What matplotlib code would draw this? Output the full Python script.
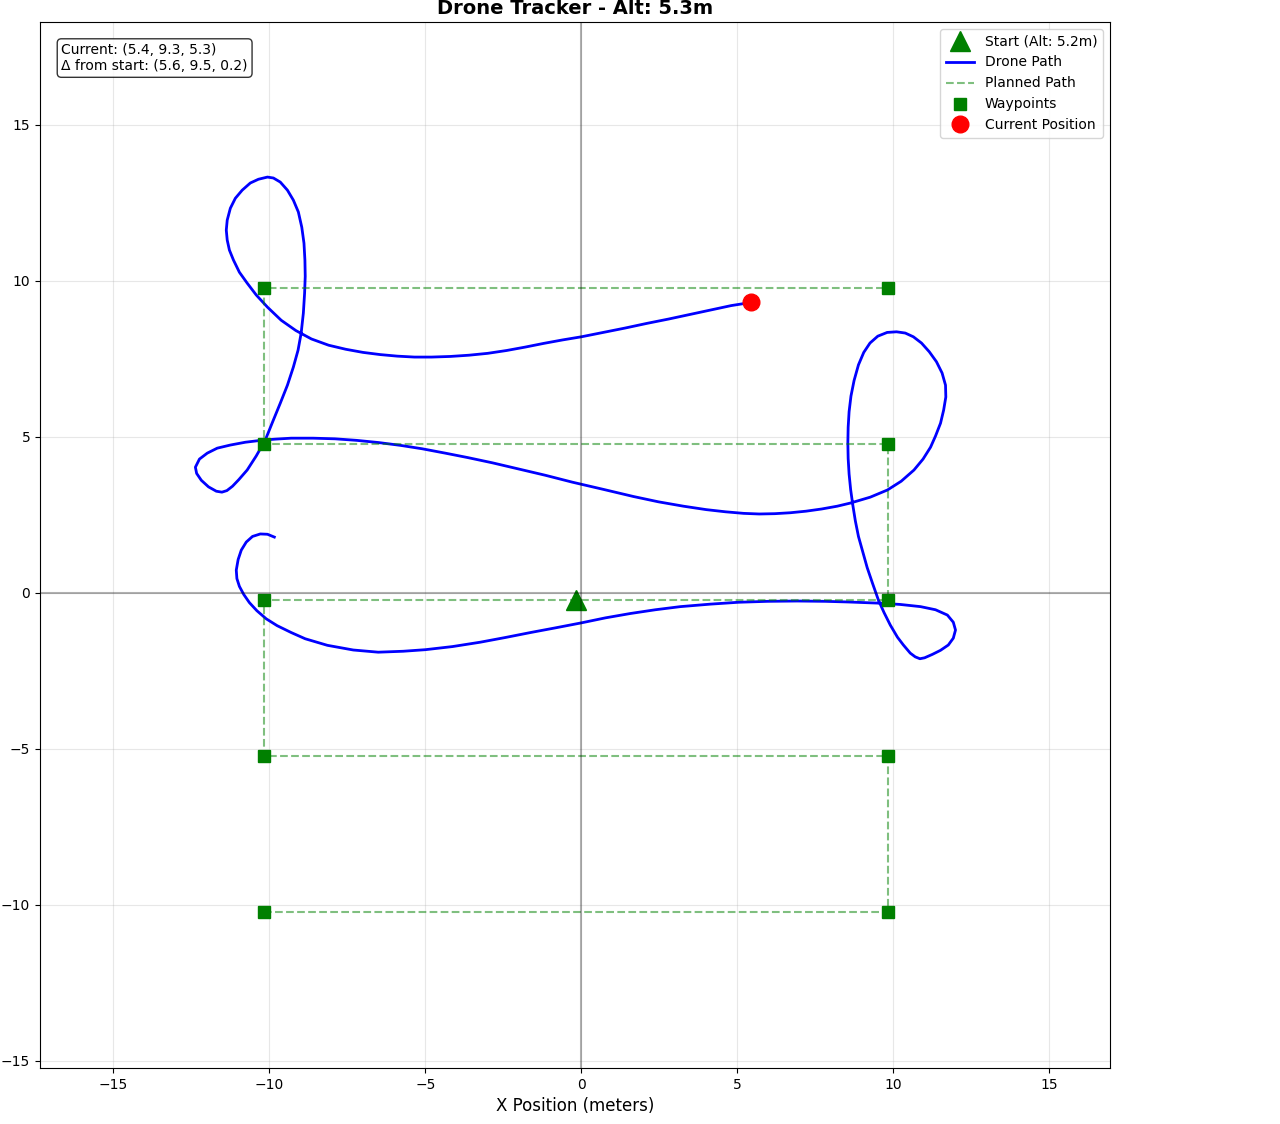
import matplotlib
matplotlib.use('Agg')
import matplotlib.pyplot as plt
import numpy as np

# start / current position (x, y, alt)
start = (-0.17, -0.24, 5.15)
current = (5.43, 9.30, 5.32)

# waypoints (lawnmower pattern), in visit order
wp_x = [-10.17, 9.83, 9.83, -10.17, -10.17, 9.83, 9.83, -10.17, -10.17, 9.83]
wp_y = [-10.24, -10.24, -5.24, -5.24, -0.24, -0.24, 4.76, 4.76, 9.76, 9.76]

# drone track (x, y), first point -> current position
path_pts = [
    (-9.84, 1.78), (-10.06, 1.87), (-10.29, 1.88), (-10.54, 1.80), (-10.74, 1.62),
    (-10.90, 1.36), (-11.00, 1.06), (-11.06, 0.72), (-11.04, 0.45), (-10.96, 0.20),
    (-10.82, -0.06), (-10.64, -0.32), (-10.40, -0.58), (-10.10, -0.84), (-9.75, -1.06),
    (-9.30, -1.28), (-8.85, -1.48), (-8.14, -1.69), (-7.31, -1.84), (-6.51, -1.91),
    (-5.71, -1.88), (-5.00, -1.83), (-4.13, -1.73), (-3.24, -1.59), (-2.44, -1.44),
    (-1.63, -1.28), (-0.83, -1.13), (0.00, -0.97), (0.77, -0.81), (1.57, -0.67),
    (2.37, -0.55), (3.17, -0.45), (4.13, -0.37), (5.03, -0.31), (5.96, -0.28),
    (6.92, -0.27), (7.82, -0.28), (8.53, -0.30), (9.58, -0.34), (10.22, -0.38),
    (10.87, -0.45), (11.35, -0.55), (11.73, -0.72), (11.92, -0.95), (11.99, -1.20),
    (11.92, -1.46), (11.76, -1.68), (11.51, -1.85), (11.25, -1.98), (11.00, -2.09),
    (10.85, -2.12), (10.70, -2.06), (10.54, -1.94), (10.32, -1.68), (10.13, -1.43),
    (9.90, -1.04), (9.70, -0.64), (9.52, -0.24), (9.33, 0.30), (9.16, 0.80),
    (9.02, 1.30), (8.88, 1.80), (8.78, 2.30), (8.70, 2.80), (8.63, 3.30),
    (8.58, 3.80), (8.55, 4.30), (8.54, 4.80), (8.55, 5.30), (8.58, 5.80),
    (8.64, 6.30), (8.74, 6.80), (8.88, 7.30), (9.05, 7.70), (9.25, 8.00),
    (9.50, 8.22), (9.80, 8.34), (10.10, 8.36), (10.38, 8.32), (10.64, 8.20),
    (10.90, 8.00), (11.15, 7.72), (11.38, 7.40), (11.56, 7.04), (11.67, 6.65),
    (11.68, 6.27), (11.61, 5.85), (11.51, 5.43), (11.35, 5.02), (11.19, 4.66),
    (10.95, 4.28), (10.66, 3.93), (10.25, 3.57), (9.81, 3.29), (9.26, 3.06),
    (8.62, 2.87), (8.20, 2.77), (7.70, 2.68), (7.20, 2.61), (6.70, 2.56),
    (6.20, 2.53), (5.70, 2.52), (5.20, 2.54), (4.62, 2.59), (4.00, 2.66),
    (3.27, 2.77), (2.47, 2.91), (1.67, 3.08), (0.70, 3.31), (-0.29, 3.54),
    (-1.15, 3.76), (-2.05, 3.97), (-2.85, 4.16), (-3.65, 4.33), (-4.36, 4.47),
    (-5.10, 4.61), (-5.80, 4.72), (-6.50, 4.81), (-7.20, 4.88), (-7.90, 4.93),
    (-8.60, 4.95), (-9.30, 4.95), (-9.80, 4.92), (-10.19, 4.89), (-10.77, 4.82),
    (-11.25, 4.73), (-11.67, 4.63), (-11.99, 4.47), (-12.24, 4.28), (-12.37, 4.02),
    (-12.33, 3.82), (-12.18, 3.60), (-11.95, 3.39), (-11.70, 3.25), (-11.52, 3.22),
    (-11.36, 3.27), (-11.18, 3.41), (-10.98, 3.62), (-10.71, 3.93), (-10.42, 4.38),
    (-10.13, 4.89), (-9.90, 5.46), (-9.65, 6.07), (-9.42, 6.65), (-9.23, 7.23),
    (-9.08, 7.77), (-8.98, 8.32), (-8.91, 8.96), (-8.87, 9.60), (-8.85, 10.14),
    (-8.86, 10.66), (-8.89, 11.20), (-8.96, 11.71), (-9.07, 12.20), (-9.23, 12.58),
    (-9.42, 12.90), (-9.65, 13.16), (-9.87, 13.29), (-10.06, 13.32), (-10.35, 13.25),
    (-10.61, 13.13), (-10.87, 12.90), (-11.09, 12.64), (-11.25, 12.32), (-11.35, 11.94),
    (-11.38, 11.62), (-11.35, 11.30), (-11.28, 10.98), (-11.15, 10.66), (-10.96, 10.27),
    (-10.71, 9.92), (-10.42, 9.54), (-10.06, 9.15), (-9.62, 8.73), (-9.15, 8.40),
    (-8.65, 8.13), (-8.10, 7.93), (-7.55, 7.80), (-7.00, 7.70), (-6.45, 7.63),
    (-5.90, 7.58), (-5.35, 7.55), (-4.80, 7.55), (-4.20, 7.57), (-3.60, 7.61),
    (-3.00, 7.67), (-2.40, 7.76), (-1.80, 7.87), (-1.20, 7.99), (-0.60, 8.10),
    (0.00, 8.20), (0.70, 8.34), (1.40, 8.48), (2.10, 8.63), (2.80, 8.77),
    (3.50, 8.92), (4.20, 9.07), (4.80, 9.20), (5.43, 9.30),
]
path_x = [p[0] for p in path_pts]
path_y = [p[1] for p in path_pts]

fig = plt.figure(figsize=(12.8, 11.24), dpi=100)
ax = fig.add_axes([0.03125, 0.0498, 0.8359, 0.9306])

ax.plot(start[0], start[1], 'g^', markersize=15, label=f'Start (Alt: {start[2]:.1f}m)')
ax.plot(path_x, path_y, 'b-', linewidth=2, label='Drone Path')
ax.plot(wp_x, wp_y, 'g--', alpha=0.5, linewidth=1.5, label='Planned Path')
ax.plot(wp_x, wp_y, 'gs', markersize=8, label='Waypoints')
ax.plot(current[0], current[1], 'ro', markersize=12, label='Current Position')

ax.axhline(0, color='k', alpha=0.3)
ax.axvline(0, color='k', alpha=0.3)
ax.grid(True, alpha=0.3)

ax.set_xlim(-17.35, 16.94)
ax.set_ylim(-15.24, 18.29)
ax.set_xticks([-15, -10, -5, 0, 5, 10, 15])
ax.set_yticks([-15, -10, -5, 0, 5, 10, 15])

ax.set_xlabel('X Position (meters)', fontsize=12)
ax.set_title(f'Drone Tracker - Alt: {current[2]:.1f}m', fontsize=14, fontweight='bold')

dx = current[0] - start[0]
dy = current[1] - start[1]
dz = current[2] - start[2]
info = (f'Current: ({current[0]:.1f}, {current[1]:.1f}, {current[2]:.1f})\n'
        f'\u0394 from start: ({dx:.1f}, {dy:.1f}, {dz:.1f})')
ax.text(0.02, 0.98, info, transform=ax.transAxes, fontsize=10, va='top',
        bbox=dict(boxstyle='round', facecolor='white', alpha=0.8))

ax.legend(loc='upper right')

fig.savefig('out.png', dpi=100)
